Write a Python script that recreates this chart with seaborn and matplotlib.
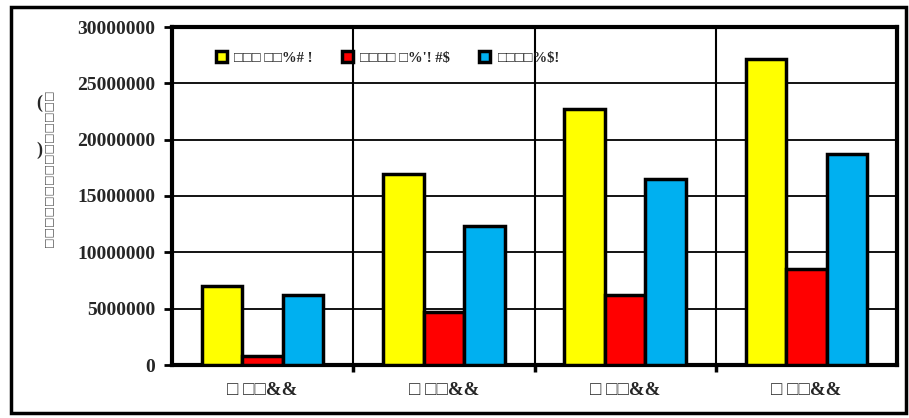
import matplotlib
matplotlib.use("Agg")
import matplotlib.pyplot as plt
import matplotlib.patches as mpatches
import seaborn as sns
import pandas as pd

# ---- data ----
category_keys = ["g1", "g2", "g3", "g4"]
xtick_labels = ["□ □□&&", "□ □□&&", "□ □□&&", "□ □□&&"]
series_names = ["□□□ □□%# !", "□□□□ □%'! #$", "□□□□%$!"]
series_yellow = [7000000, 16950000, 22700000, 27150000]
series_red = [800000, 4700000, 6200000, 8500000]
series_blue = [6200000, 12300000, 16500000, 18700000]
y_ticks = [0, 5000000, 10000000, 15000000, 20000000, 25000000, 30000000]
colors = ["#FFFF00", "#FF0000", "#00B0F0"]

rows = []
for name, vals in zip(series_names, [series_yellow, series_red, series_blue]):
    for c, v in zip(category_keys, vals):
        rows.append({"cat": c, "value": v, "series": name})
df = pd.DataFrame(rows)

sns.set_theme(style="white")
plt.rcParams["font.family"] = ["Liberation Serif", "DejaVu Serif"]
plt.rcParams["font.weight"] = "bold"

W, H = 909, 418
fig = plt.figure(figsize=(W / 100, H / 100), dpi=100)
fig.patch.set_facecolor("white")

# outer frame
fig.patches.append(mpatches.Rectangle((11 / W, 1 - 413 / H), (906 - 11) / W, (413 - 7) / H,
                                      transform=fig.transFigure, fill=False,
                                      edgecolor="black", linewidth=2.5, zorder=0))

ax = fig.add_axes([172 / W, 1 - 365 / H, (897 - 172) / W, (365 - 27) / H])
sns.barplot(data=df, x="cat", y="value", hue="series", order=category_keys,
            hue_order=series_names, palette=colors, width=0.67, saturation=1,
            edgecolor="black", linewidth=2.5, errorbar=None, ax=ax, zorder=3)

ax.set_ylim(0, 30000000)
ax.set_xlim(-0.5, 3.5)
ax.set_yticks(y_ticks)
ax.set_yticklabels([str(v) for v in y_ticks], fontsize=14, fontweight="bold")
ax.set_xticks(range(4))
ax.set_xticklabels(xtick_labels, fontsize=13.5, fontweight="bold")
ax.set_xticks([0.5, 1.5, 2.5], minor=True)
ax.tick_params(axis="x", which="major", length=0, pad=12)
ax.tick_params(axis="x", which="minor", length=5, width=2.5, color="black", direction="out", bottom=True)
ax.tick_params(axis="y", which="major", length=6, width=2, color="black", direction="out", left=True, pad=6)
ax.set_xlabel("")
ax.set_ylabel("")

ax.grid(False)
ax.yaxis.grid(True, color="black", linewidth=1.3, zorder=0)
ax.xaxis.grid(True, which="minor", color="black", linewidth=1.5, zorder=0)
ax.set_axisbelow(True)
for sp in ax.spines.values():
    sp.set_visible(True)
    sp.set_color("black")
    sp.set_linewidth(3)

leg = ax.legend(loc="center", bbox_to_anchor=(0.298, 0.908), ncol=3, frameon=False,
                handlelength=0.75, handleheight=0.75, columnspacing=2.0, handletextpad=0.5,
                prop={"size": 10.5, "weight": "bold"})
for h in leg.legend_handles:
    h.set_edgecolor("black")
    h.set_linewidth(2.5)

# y-axis label (rendered as rotated boxes with upright parentheses)
fig.text(48 / W, 1 - 168 / H, "□" * 15, rotation=90, fontsize=8, color="#555555",
         ha="center", va="center", family=["DejaVu Sans"])
fig.text(39 / W, 1 - 103 / H, "(", fontsize=13, ha="center", va="center")
fig.text(39 / W, 1 - 150 / H, ")", fontsize=13, ha="center", va="center")

fig.savefig("out.png", dpi=100, facecolor="white")
